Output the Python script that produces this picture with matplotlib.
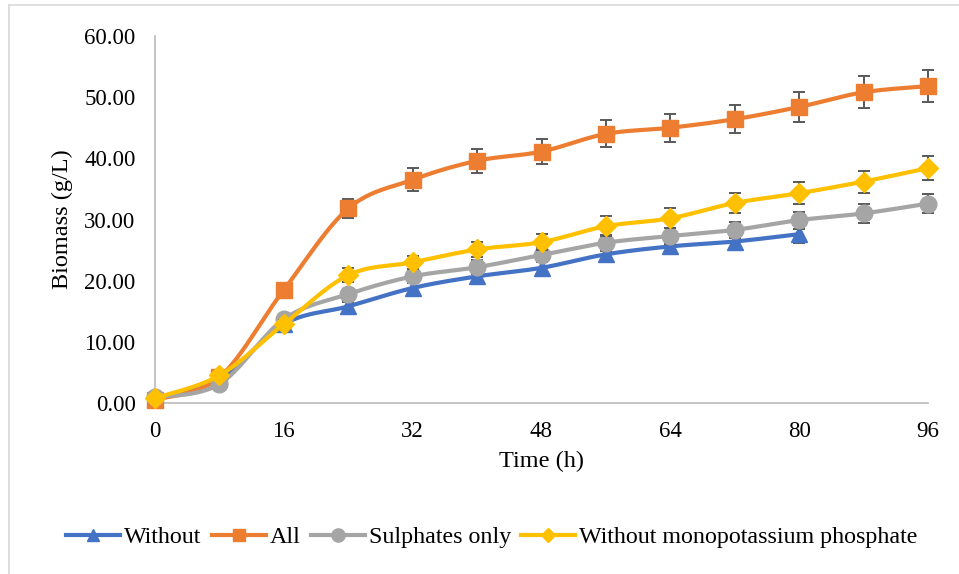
import numpy as np
import matplotlib
matplotlib.use("Agg")
import matplotlib.pyplot as plt
from matplotlib.lines import Line2D

plt.rcParams['font.family'] = ['Liberation Serif', 'DejaVu Serif']

# data
time = [0, 8, 16, 24, 32, 40, 48, 56, 64, 72, 80, 88, 96]
without = [0.7, 3.9, 12.9, 15.8, 18.8, 20.7, 22.1, 24.3, 25.6, 26.4, 27.6]
without_err = [0.1, 0.3, 0.5, 0.7, 0.8, 0.8, 0.9, 0.9, 1.0, 1.0, 1.5]
all_ = [0.5, 4.2, 18.5, 31.8, 36.5, 39.6, 41.1, 44.0, 45.0, 46.4, 48.4, 50.8, 51.8]
all_err = [0.2, 0.4, 0.8, 1.6, 1.9, 2.0, 2.1, 2.2, 2.3, 2.3, 2.4, 2.6, 2.6]
sulph = [0.9, 3.1, 13.7, 17.8, 20.7, 22.2, 24.2, 26.2, 27.3, 28.3, 29.9, 31.0, 32.6]
sulph_err = [0.1, 0.3, 0.6, 0.9, 1.0, 1.1, 1.2, 1.3, 1.3, 1.3, 1.4, 1.6, 1.6]
nokp = [0.8, 4.5, 12.9, 20.9, 23.0, 25.1, 26.3, 28.9, 30.2, 32.7, 34.3, 36.2, 38.4]
nokp_err = [0.1, 0.3, 0.6, 1.1, 1.1, 1.2, 1.3, 1.6, 1.6, 1.6, 1.75, 1.8, 1.9]

labels = ['Without', 'All', 'Sulphates only', 'Without monopotassium phosphate']
colors = ['#4472C4', '#ED7D31', '#A5A5A5', '#FFC000']
markers = ['^', 's', 'o', 'D']
msizes = [11, 11, 12, 10]


def smooth(x, y, n=24):
    # excel-like smoothed line (catmull-rom bezier)
    p = np.column_stack([x, y]).astype(float)
    out = []
    for i in range(len(p) - 1):
        p0 = p[i - 1] if i > 0 else p[i]
        p1, p2 = p[i], p[i + 1]
        p3 = p[i + 2] if i + 2 < len(p) else p[i + 1]
        c1 = p1 + (p2 - p0) / 6
        c2 = p2 - (p3 - p1) / 6
        t = np.linspace(0, 1, n)[:, None]
        seg = (1 - t)**3 * p1 + 3 * (1 - t)**2 * t * c1 + 3 * (1 - t) * t**2 * c2 + t**3 * p2
        out.append(seg if i == 0 else seg[1:])
    s = np.vstack(out)
    return s[:, 0], s[:, 1]


fig = plt.figure(figsize=(9.59, 5.74), dpi=100)
ax = fig.add_axes([155/959, 1 - 403/574, (928 - 155)/959, (403 - 36)/574])

series = [without, all_, sulph, nokp]
errs = [without_err, all_err, sulph_err, nokp_err]
handles = []
for i, (vals, err) in enumerate(zip(series, errs)):
    t = time[:len(vals)]
    sx, sy = smooth(t, vals)
    ax.plot(sx, sy, color=colors[i], lw=3, zorder=2 + i, clip_on=False,
            solid_capstyle='round')
    ax.errorbar(t, vals, yerr=err, fmt='none', ecolor='#595959', elinewidth=1.4,
                capsize=4.5, capthick=1.4, zorder=2 + i, clip_on=False)
    ax.plot(t, vals, ls='none', marker=markers[i], ms=msizes[i], color=colors[i],
            zorder=2 + i, clip_on=False)
    handles.append(Line2D([], [], color=colors[i], lw=3, marker=markers[i],
                          ms=msizes[i] - 2.5))

ax.set_xlim(0, 96)
ax.set_ylim(0, 60)
ax.set_xticks(range(0, 97, 16))
ax.set_yticks(range(0, 61, 10))
ax.set_yticklabels([f'{v:.2f}' for v in range(0, 61, 10)])
ax.tick_params(length=0, labelsize=16.5, colors='black')
ax.tick_params(axis='y', pad=14)
ax.tick_params(axis='x', pad=13)
for side in ['top', 'right']:
    ax.spines[side].set_visible(False)
for side in ['left', 'bottom']:
    ax.spines[side].set_color('#BFBFBF')
    ax.spines[side].set_linewidth(1.3)

ax.set_xlabel('Time (h)', fontsize=17.5, labelpad=6)
ax.set_ylabel('Biomass (g/L)', fontsize=17.5, labelpad=8)

fig.legend(handles, labels, loc='center', bbox_to_anchor=(492/959, 1 - 537/574), ncol=4,
           frameon=False, fontsize=17.3, handlelength=2.25, handletextpad=0.17,
           columnspacing=0.42, borderpad=0)

# chart border (left and top edges visible)
fig.add_artist(Line2D([9/959, 9/959], [0, 1 - 5/574], color='#D9D9D9', lw=1.2))
fig.add_artist(Line2D([9/959, 1], [1 - 5/574, 1 - 5/574], color='#D9D9D9', lw=1.2))

fig.savefig('out.png', dpi=100)
